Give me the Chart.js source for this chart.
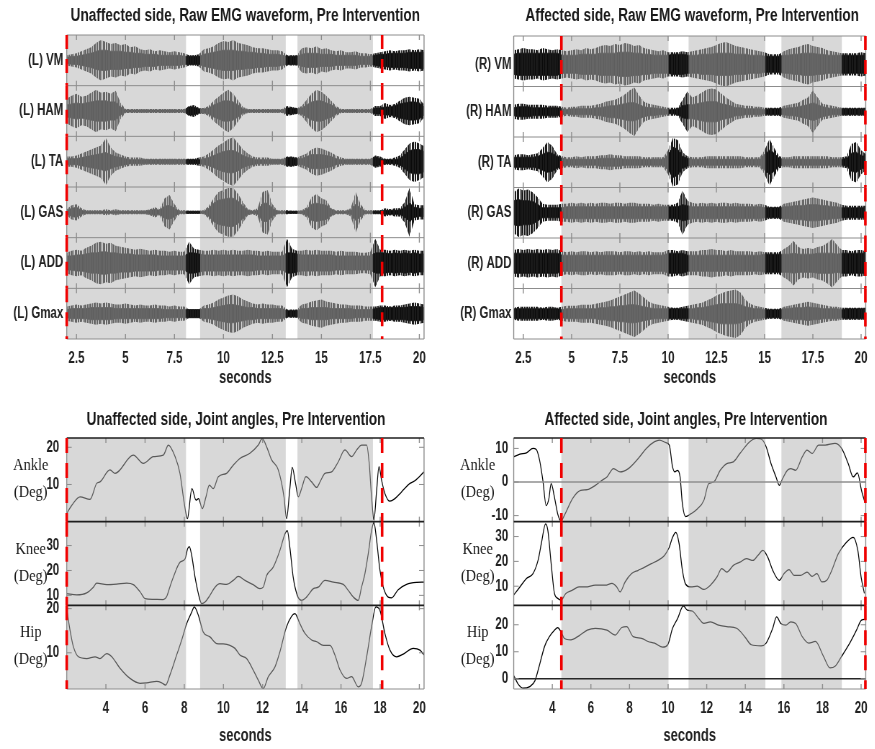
<!DOCTYPE html>
<html>
<head>
<meta charset="utf-8">
<script src="https://cdn.jsdelivr.net/npm/chart.js@4.4.1/dist/chart.umd.min.js"></script>
<style>
  html, body { margin: 0; padding: 0; background: #fff; }
  #fig { position: relative; width: 875px; height: 749px; overflow: hidden; background: #fff; }
  .panel { position: absolute; transform-origin: 0 0; }
</style>
</head>
<body>
<div id="fig"></div>
<script>
// Horizontal condensing applied to every panel (narrow figure lettering).
const K = 0.72;
const SANS = "'Liberation Sans', Arial, Helvetica, sans-serif";
const SERIF = "'Liberation Serif', 'Times New Roman', serif";

// ---------------- shared axis data ----------------
const xMin = 2.0, xMax = 20.24;
const emgTicks = [2.5, 5, 7.5, 10, 12.5, 15, 17.5, 20];
const angleTicks = [4, 6, 8, 10, 12, 14, 16, 18, 20];

// stance / swing windows (s) and event markers (s)
const shadeUnaffected = [[2.0, 8.09], [8.81, 13.18], [13.78, 17.63]];
const marksUnaffected = [2.0, 18.1];
const shadeAffected = [[4.47, 10.02], [11.06, 15.04], [15.87, 19.0]];
const marksAffected = [4.47, 20.22];

// ---------------- EMG amplitude envelopes ----------------
// sample times (s)
const emgTime = [2,2.25,2.5,2.75,3,3.25,3.5,3.75,4,4.25,4.5,4.75,5,5.25,5.5,5.75,6,6.25,6.5,6.75,
  7,7.25,7.5,7.75,8,8.25,8.5,8.75,9,9.25,9.5,9.75,10,10.25,10.5,10.75,11,11.25,11.5,11.75,
  12,12.25,12.5,12.75,13,13.25,13.5,13.75,14,14.25,14.5,14.75,15,15.25,15.5,15.75,16,16.25,16.5,16.75,
  17,17.25,17.5,17.75,18,18.25,18.5,18.75,19,19.25,19.5,19.75,20,20.25];

// Unaffected (left) side: spike and dense-core half amplitudes
const lVMPeak = [5,6,7,9,11,13,17,20,18,16,17,15,16,13,14,11,10,11,9,10,9,8,9,8,7, 5,5,6, 11,12,14,17,19,18,20,17,16,15,13,12,12,11,10,10,9, 5,5,5, 12,13,12,14,11,12,10,9,10,8,8,9,7,7,6, 7,8,9,10,9,10,10,11,10,11,10];
const lVMCore = [3,4,4,5,6,7,9,10,10,9,9,9,8,8,7,7,6,6,6,5,5,5,5,5,4, 4,4,4, 6,7,8,9,10,10,10,9,9,8,8,7,7,6,6,6,5, 4,4,4, 6,7,7,7,6,6,6,5,5,5,5,5,4,4,4, 5,6,6,7,7,7,7,8,8,8,8];
const lHAMPeak = [12,15,17,14,15,18,21,18,19,17,20,8,2,2,2,2,2,2,2,2,2,2,2,2,2, 5,6,3, 3,5,10,14,18,21,17,10,4,2,2,2,2,2,2,2,2, 5,4,3, 5,11,17,21,19,15,10,5,2,2,2,2,2,2,2, 5,5,8,6,7,10,13,14,13,12,6];
const lHAMCore = [6,7,8,7,8,9,10,10,10,9,9,4,1,1,1,1,1,1,1,1,1,1,1,1,1, 4,4,2, 2,3,6,8,10,10,9,6,2,1,1,1,1,1,1,1,1, 3,3,2, 3,6,9,10,10,8,6,3,1,1,1,1,1,1,1, 3,3,4,4,5,7,8,9,9,8,4];
const lTAPeak = [5,5,6,8,10,12,14,16,23,14,9,7,5,4,4,4,3,3,3,3,3,3,3,3,3, 3,3,4, 5,8,12,16,19,22,24,18,12,8,5,4,4,4,3,3,3, 5,5,4, 6,8,12,14,13,11,9,6,4,3,3,3,3,3,3, 6,5,3,3,4,6,12,18,20,18,15];
const lTACore = [3,3,3,4,5,6,7,8,9,7,5,4,3,2,2,2,2,2,2,2,2,2,2,2,2, 2,2,2, 3,4,6,8,10,11,11,9,6,4,3,2,2,2,2,2,2, 4,4,3, 3,5,7,7,7,6,5,3,2,2,2,2,2,2,2, 5,3,2,2,2,3,7,11,12,12,10];
const lGASPeak = [3,7,8,4,2,2,2,2,3,2,3,2,2,2,2,2,2,3,5,3,14,17,8,2,2, 1.5,1.5,1.5, 2,6,14,20,22,24,24,18,10,3,2,4,20,22,8,2,2, 2,1.5,1.5, 2,5,15,18,14,12,4,2,2,2,4,20,8,2,2, 2,2,4,3,4,4,10,24,8,7,7];
const lGASCore = [2,4,5,2,1,1,1,1,1,1,1,1,1,1,1,1,1,2,3,2,6,7,4,1,1, 1,1,1, 1,4,9,12,13,14,14,11,6,2,1,2,9,9,4,1,1, 1,1,1, 1,3,8,9,8,7,3,1,1,1,2,8,4,1,1, 1,1,2,2,2,2,5,9,5,4,4];
const lADDPeak = [10,12,13,12,15,17,20,21,19,20,17,16,15,14,13,14,13,12,13,12,12,11,12,11,11, 21,14,13, 12,12,13,12,13,12,13,12,12,13,12,12,11,12,11,11,11, 24,14,12, 12,13,12,13,12,12,12,11,12,11,11,11,10,10,11, 24,13,13,12,13,12,13,12,13,12,12];
const lADDCore = [7,7,8,8,9,10,10,11,11,10,10,9,9,9,8,8,8,8,8,7,7,7,7,7,7, 10,10,9, 8,8,8,8,8,8,8,8,8,8,8,7,7,7,7,7,7, 10,10,9, 8,8,8,8,8,8,8,7,7,7,7,7,7,7,7, 10,10,10,9,10,9,10,9,10,9,9];
const lGmaxPeak = [7,8,9,8,9,10,11,10,11,10,9,9,10,9,8,9,8,8,9,8,8,7,8,7,7, 4,4,4, 8,9,11,14,16,18,19,17,14,12,10,9,10,9,9,8,8, 4,4,4, 9,10,12,13,14,12,11,10,9,9,8,8,8,7,7, 7,8,8,7,8,8,9,10,11,10,9];
const lGmaxCore = [4,5,5,5,5,6,6,6,6,6,5,5,5,5,5,5,5,5,5,5,4,4,4,4,4, 4,4,4, 5,5,6,7,8,9,9,8,7,6,6,5,5,5,5,5,5, 3,3,3, 5,5,6,6,6,6,5,5,5,5,5,4,4,4,4, 5,6,6,6,6,6,6,7,7,7,6];

// Affected (right) side
const rVMPeak = [14,15,16,15,15,14,16,15,14,15, 14,13,14,15,14,16,15,16,18,19, 18,20,19,21,20,18,19,16,15,14, 13,14,12,12,12,13,12,13,14,15, 16,17,19,21,22,20,18,17,16,15, 14,13,12,10,10,10,13,15,16,17, 19,20,18,17,16,14,13,12,11,11, 11,11,12,11];
const rVMCore = [10,11,11,11,11,11,11,11,11,11, 9,9,9,9,10,10,10,10,11,11, 11,11,12,12,12,11,11,10,10,9, 9,9,9,10,10,10,9,9,9,10, 10,10,11,11,11,11,10,10,10,9, 9,9,8,8,8,8,9,9,10,10, 11,11,11,10,10,9,9,9,9,9, 9,9,9,9];
const rHAMPeak = [7,8,8,7,7,7,7,6,6,6, 5,4,5,5,6,6,6,7,8,10, 11,12,14,17,21,24,16,10,8,7, 6,5,4,4,4,12,20,14,16,19, 22,23,22,18,14,11,8,7,6,6, 5,5,4,4,4,4,6,7,8,9, 12,14,21,14,8,7,6,5,4,4, 4,4,4,4];
const rHAMCore = [4,5,5,5,4,4,4,4,4,4, 3,2,3,3,3,3,3,4,4,5, 6,6,7,8,9,9,7,5,4,4, 3,3,2,2,3,6,7,7,8,9, 10,10,10,8,7,6,4,4,3,3, 3,3,2,3,3,3,3,4,4,5, 6,7,9,7,5,4,3,3,3,3, 3,3,3,3];
const rTAPeak = [7,8,8,7,8,9,14,20,16,8, 6,5,5,6,5,6,6,6,7,7, 8,7,7,6,6,6,6,5,5,5, 5,5,12,24,22,10,6,5,5,5, 6,6,6,6,6,6,6,6,5,5, 5,5,12,23,14,6,5,5,6,6, 6,6,6,6,6,6,5,5,5,6, 18,20,12,8];
const rTACore = [5,5,5,5,5,6,8,10,9,6, 4,3,3,3,3,3,3,3,4,4, 4,4,4,3,3,3,3,3,3,3, 3,3,8,15,13,6,4,3,3,3, 3,3,3,3,3,3,3,3,3,3, 3,3,8,12,9,4,3,3,3,3, 3,3,3,3,3,3,3,3,3,4, 9,10,7,5];
const rGASPeak = [20,24,22,23,20,15,9,8,8,8, 9,9,10,9,10,9,10,9,10,10, 9,10,10,9,10,10,9,9,9,8, 9,8,8,8,10,22,12,10,9,10, 9,10,9,10,10,9,10,9,9,9, 8,9,8,6,6,6,9,10,11,12, 13,14,15,14,13,12,11,10,8,7, 7,7,7,7];
const rGASCore = [12,13,12,12,11,8,5,5,5,5, 5,6,6,6,6,6,6,6,6,6, 6,6,6,6,6,6,6,6,6,6, 6,6,6,6,6,8,7,6,6,6, 6,6,6,6,6,6,6,6,6,6, 6,6,5,5,5,5,6,6,7,7, 7,8,8,8,7,7,6,6,5,5, 5,5,5,5];
const rADDPeak = [13,14,13,14,13,14,13,14,13,14, 12,11,12,11,12,12,11,12,11,12, 12,12,11,12,12,11,12,11,12,11, 11,11,13,13,12,13,12,12,12,13, 13,14,13,13,12,13,12,12,12,12, 11,12,11,11,11,11,14,17,22,16, 14,15,14,16,17,20,24,18,13,13, 12,13,13,12];
const rADDCore = [10,10,10,10,10,10,10,10,10,10, 8,8,8,8,8,8,8,8,8,8, 8,8,8,8,8,8,8,8,8,8, 8,8,10,10,10,10,8,8,8,8, 8,8,8,8,8,8,8,8,8,8, 8,8,9,9,9,9,9,9,10,9, 9,9,9,10,10,10,10,9,10,10, 10,10,10,10];
const rGmaxPeak = [6,7,7,7,7,7,6,7,7,6, 7,8,8,8,9,9,9,10,11,12, 13,15,17,19,21,23,20,16,12,10, 9,8,7,6,6,7,8,9,10,11, 13,15,18,20,22,23,24,21,14,10, 8,7,6,5,5,5,7,8,9,10, 11,12,11,10,9,8,7,7,6,6, 6,6,6,6];
const rGmaxCore = [5,5,5,5,5,5,5,5,5,5, 4,5,5,5,5,5,5,5,6,6, 7,7,8,8,9,9,8,7,6,5, 5,5,5,5,5,5,5,5,6,6, 7,8,9,10,10,10,10,9,7,6, 5,5,4,4,4,4,5,5,6,6, 6,7,6,6,5,5,5,5,4,5, 5,5,5,5];

// ---------------- joint angles (deg) ----------------
const ankleLTime = [2.00,2.26,2.68,3.19,3.53,3.70,4.21,4.47,5.40,5.91,6.42,6.93,7.19,7.53,7.78,8.00,8.16,8.39,8.60,8.73,8.92,9.11,9.28,9.48,9.74,10.16,10.50,10.84,11.35,11.78,11.98,12.20,12.46,12.80,13.09,13.22,13.39,13.51,13.68,13.82,13.99,14.21,14.50,14.76,14.93,15.18,15.52,15.86,16.20,16.54,16.80,17.05,17.31,17.44,17.56,17.68,17.82,17.94,18.07,18.24,18.50,18.75,19.09,19.52,19.77,20.24];
const ankleLDeg = [2.2,4.4,6.7,6.0,10.3,10.7,13.9,13.0,17.9,15.7,17.5,17.9,20.6,17.5,13.0,4.9,0.8,8.9,5.8,6.2,3.5,6.7,9.8,8.9,12.1,13.0,15.2,17.0,18.4,20.6,22.3,20.2,16.6,13.9,6.7,0.8,8.9,14.6,10.3,6.7,8.9,12.1,10.7,9.2,10.7,13.0,13.4,16.1,19.3,17.5,19.3,20.6,20.6,15.7,6.7,0.4,8.5,14.8,11.2,7.6,5.5,6.2,8.0,10.3,11.0,13.4];
const kneeLTime = [2.00,2.51,3.02,3.36,3.53,4.04,4.55,5.06,5.40,5.74,6.00,6.42,6.93,7.10,7.27,7.44,7.78,8.04,8.17,8.26,8.38,8.55,8.72,8.89,9.06,9.31,9.57,9.82,10.16,10.50,10.76,11.10,11.52,11.86,12.03,12.20,12.54,12.88,13.14,13.26,13.39,13.56,13.77,13.99,14.24,14.59,14.84,15.18,15.61,16.12,16.37,16.63,16.88,17.05,17.22,17.39,17.56,17.68,17.82,17.99,18.16,18.41,18.58,18.92,19.35,19.86,20.24];
const kneeLDeg = [10.7,10.2,11.0,13.3,14.9,14.3,14.5,14.9,14.3,11.5,8.7,8.4,8.3,9.5,13.5,17.3,23.3,24.7,28.7,29.6,26.0,17.3,10.7,6.7,7.3,10.0,13.3,14.7,14.4,16.0,17.6,16.0,14.3,12.7,13.3,17.9,21.3,28.0,34.7,36.0,29.3,17.3,10.0,8.0,9.3,12.7,13.3,16.0,15.3,14.4,12.0,9.3,8.0,13.3,18.7,26.7,36.0,39.3,32.0,20.0,13.3,9.3,9.0,12.3,14.4,15.2,15.3];
const hipLTime = [2.00,2.17,2.34,2.60,3.02,3.45,3.70,4.04,4.30,4.72,5.23,5.74,6.08,6.59,6.85,7.05,7.27,7.61,7.87,8.12,8.38,8.51,8.72,8.97,9.31,9.65,9.99,10.33,10.59,10.84,11.18,11.52,11.78,12.03,12.29,12.63,12.88,13.22,13.65,13.90,14.16,14.50,14.76,15.10,15.44,15.69,15.95,16.29,16.54,16.88,17.05,17.31,17.56,17.78,17.99,18.24,18.50,18.84,19.18,19.69,20.03,20.24];
const hipLDeg = [20.0,15.1,11.4,9.1,8.7,9.1,8.7,9.8,9.1,6.5,4.2,3.1,3.2,3.5,3.2,2.7,5.0,9.5,12.9,16.6,19.2,20.4,18.5,14.7,13.6,12.1,12.0,11.7,11.0,9.5,8.7,6.1,3.8,1.9,4.6,6.8,10.2,15.9,18.9,16.6,14.4,12.9,12.5,11.7,11.7,9.5,6.1,4.2,4.6,2.3,3.1,9.1,15.9,20.4,19.6,14.4,10.6,9.1,9.7,11.0,10.6,9.5];

const ankleRTime = [2.00,2.32,2.66,3.00,3.17,3.34,3.51,3.68,3.82,3.94,4.11,4.28,4.45,4.70,5.04,5.47,5.81,6.23,6.57,6.83,7.17,7.51,7.94,8.45,8.87,9.30,9.55,9.89,10.06,10.23,10.35,10.49,10.62,10.74,10.91,11.17,11.51,11.85,12.10,12.36,12.70,13.04,13.38,13.72,14.23,14.57,14.82,15.08,15.33,15.59,15.76,15.93,16.18,16.35,16.61,16.95,17.20,17.46,17.80,18.14,18.65,18.99,19.33,19.59,19.81,20.02,20.19];
const ankleRDeg = [7.5,8.3,8.7,10.0,9.7,6.5,0.5,-7.0,-5.0,-0.5,-4.5,-9.5,-11.5,-9.0,-5.0,-2.5,-2.3,-1.0,0.5,1.5,4.0,3.0,4.0,7.0,10.0,12.0,12.5,11.7,11.0,4.5,3.0,3.5,1.5,-6.5,-10.3,-9.5,-8.0,-5.5,-0.5,0.0,3.5,5.5,6.0,8.5,12.0,13.0,12.8,10.5,5.5,1.5,-1.0,1.0,3.5,4.0,3.5,7.5,9.5,8.5,11.0,11.0,11.5,10.0,5.5,1.5,2.7,-2.5,-6.0];
const kneeRTime = [2.00,2.32,2.66,3.00,3.26,3.43,3.65,3.77,3.94,4.11,4.28,4.45,4.70,5.04,5.38,5.72,6.23,6.74,7.09,7.34,7.51,7.77,8.11,8.45,8.79,9.13,9.47,9.81,10.06,10.23,10.40,10.57,10.74,10.91,11.17,11.51,11.85,12.19,12.53,12.78,13.04,13.38,13.72,14.06,14.40,14.65,14.91,15.16,15.42,15.76,16.01,16.27,16.52,16.86,17.20,17.46,17.71,17.97,18.22,18.48,18.82,19.24,19.59,19.83,20.00,20.17];
const kneeRDeg = [6.4,9.7,13.1,15.1,20.4,27.1,35.1,32.4,19.1,7.1,5.1,4.4,7.1,8.4,9.7,9.7,10.4,10.4,11.1,9.7,7.7,11.7,15.1,16.4,17.7,19.1,20.4,22.4,25.7,29.7,31.7,27.1,16.4,10.8,9.7,10.0,8.7,10.4,13.7,17.1,15.7,18.4,19.7,21.1,20.4,22.4,24.4,21.7,16.4,12.4,15.1,16.7,14.4,14.4,15.7,14.0,15.1,11.7,12.4,16.4,23.1,27.7,29.7,24.4,13.7,7.1];
const hipRTime = [2.00,2.24,2.49,2.83,3.09,3.34,3.60,3.85,4.11,4.28,4.45,4.62,4.96,5.38,5.81,6.23,6.83,7.26,7.60,7.85,8.19,8.62,8.96,9.30,9.72,9.98,10.23,10.49,10.79,11.00,11.25,11.59,11.85,12.19,12.61,13.04,13.55,13.97,14.31,14.82,15.08,15.42,15.62,15.84,16.10,16.35,16.61,16.95,17.29,17.63,18.05,18.39,18.65,18.99,19.41,19.76,20.02,20.22];
const hipRDeg = [1.2,-2.1,-3.5,-2.9,-0.9,5.2,12.0,15.6,18.0,18.9,17.4,15.0,14.4,15.9,18.0,18.7,18.0,16.2,19.0,19.3,15.6,15.0,13.8,13.2,11.7,12.6,18.7,22.3,27.0,25.4,25.1,22.3,20.5,21.1,19.9,19.3,18.7,15.6,12.6,12.2,13.2,18.7,22.9,20.5,19.9,21.1,20.5,15.6,13.2,13.8,8.3,4.0,4.6,8.3,13.2,18.0,21.7,22.0];

// row ranges and their tick labels
const emgRange = [-25, 25], rVMRange = [-22, 28], emgZeroTick = [0];
const ankleLRange = [0, 22.5],   ankleLTicks = [10, 20];
const kneeLRange  = [6, 39.6],   kneeLTicks  = [10, 20, 30];
const hipLRange   = [1.8, 20.75], hipLTicks  = [10, 20];
const ankleRRange = [-11.8, 13.1], ankleRTicks = [-10, 0, 10];
const kneeRRange  = [2.3, 36],   kneeRTicks  = [10, 20, 30];
const hipRRange   = [-3.8, 27.2], hipRTicks  = [0, 10, 20];

// ---------------- drawing ----------------
const CORE = '#0a0a0a';
const TEXT = '#222222';

// irregular vertical hairline texture for the spike zone of each EMG trace
function hairPattern() {
  const c = document.createElement('canvas');
  c.width = 13; c.height = 4;
  const g = c.getContext('2d');
  g.fillStyle = '#1a1a1a';
  [0, 1, 2, 4, 5, 7, 8, 9, 11].forEach(x => g.fillRect(x, 0, 1, 4));
  return g.createPattern(c, 'repeat');
}
const HAIR = hairPattern();

function pts(times, vals, sign) {
  return times.map((t, i) => ({ x: t, y: sign * vals[i] }));
}

function envelopeSets(axisId, peak, core) {
  const base = { yAxisID: axisId, xAxisID: 'x', pointRadius: 0, tension: 0 };
  return [
    Object.assign({}, base, { data: pts(emgTime, peak, 1), borderWidth: 0, borderColor: 'rgba(0,0,0,0)', fill: false }),
    Object.assign({}, base, { data: pts(emgTime, peak, -1), borderWidth: 0, borderColor: 'rgba(0,0,0,0)', backgroundColor: HAIR, fill: '-1' }),
    Object.assign({}, base, { data: pts(emgTime, core, 1), borderWidth: 0.8, borderColor: CORE, fill: false }),
    Object.assign({}, base, { data: pts(emgTime, core, -1), borderWidth: 0.8, borderColor: CORE, backgroundColor: CORE, fill: '-1' })
  ];
}

function angleSet(axisId, times, vals) {
  return {
    yAxisID: axisId, xAxisID: 'x', data: pts(times, vals, 1), borderColor: '#000',
    borderWidth: 1.25, pointRadius: 0, fill: false, cubicInterpolationMode: 'monotone'
  };
}

function strokeLine(ctx, x1, y1, x2, y2) {
  ctx.beginPath(); ctx.moveTo(x1, y1); ctx.lineTo(x2, y2); ctx.stroke();
}

const decor = {
  id: 'decor',
  afterDatasetsDraw(chart, args, o) {
    const ctx = chart.ctx, a = chart.chartArea, xs = chart.scales.x;
    const px = v => xs.getPixelForValue(v);
    const rows = o.rowIds.map(id => chart.scales[id]);
    ctx.save();
    // gait-phase windows laid over the traces
    ctx.fillStyle = 'rgba(178,178,178,0.5)';
    o.shade.forEach(([s, e]) => {
      const x1 = Math.max(px(s), a.left), x2 = Math.min(px(e), a.right);
      ctx.fillRect(x1, a.top, x2 - x1, a.bottom - a.top);
    });
    // zero reference lines
    (o.zeroLines || []).forEach(z => {
      const sc = chart.scales[z.id];
      const y = sc.getPixelForValue(0);
      ctx.strokeStyle = z.color; ctx.lineWidth = z.width;
      strokeLine(ctx, a.left, y, a.right, y);
    });
    // inward tick marks
    ctx.strokeStyle = '#8c8c8c';
    ctx.lineWidth = 1 / K;
    rows.forEach(sc => {
      xs.ticks.forEach(t => {
        const x = px(t.value);
        strokeLine(ctx, x, sc.top, x, sc.top + 5);
        strokeLine(ctx, x, sc.bottom, x, sc.bottom - 5);
      });
    });
    if (o.yTickMarks) {
      ctx.lineWidth = 1;
      rows.forEach(sc => sc.ticks.forEach(t => {
        const y = sc.getPixelForValue(t.value);
        strokeLine(ctx, a.left, y, a.left + 5 / K, y);
        strokeLine(ctx, a.right, y, a.right - 5 / K, y);
      }));
    }
    // frames
    ctx.strokeStyle = '#8c8c8c'; ctx.lineWidth = 1;
    strokeLine(ctx, a.left, a.bottom, a.right, a.bottom);
    ctx.lineWidth = 1 / K;
    strokeLine(ctx, a.left, a.top, a.left, a.bottom);
    strokeLine(ctx, a.right, a.top, a.right, a.bottom);
    ctx.strokeStyle = o.sepColor; ctx.lineWidth = o.sepWidth;
    rows.forEach(sc => strokeLine(ctx, a.left, sc.top, a.right, sc.top));
    // event markers
    ctx.strokeStyle = '#f00000';
    ctx.lineWidth = 2.6 / K;
    ctx.setLineDash(o.dash);
    o.marks.forEach(m => {
      const x = px(m);
      rows.forEach(sc => strokeLine(ctx, x, sc.top, x, sc.bottom));
    });
    ctx.restore();
  },
  afterDraw(chart, args, o) {
    const ctx = chart.ctx;
    ctx.save();
    ctx.fillStyle = '#1a1a1a';
    ctx.textAlign = 'center';
    ctx.textBaseline = 'middle';
    // panel heading
    ctx.save();
    ctx.font = 'bold 17.5px ' + SANS;
    ctx.translate(o.title.x, o.title.y);
    ctx.scale(0.776 / K, 1);
    ctx.fillText(o.title.text, 0, 0);
    ctx.restore();
    // two-line serif row captions
    (o.captions || []).forEach(c => {
      const sc = chart.scales[c.id];
      const yc = (sc.top + sc.bottom) / 2;
      ctx.save();
      ctx.font = '16px ' + SERIF;
      ctx.translate(o.captionX, yc);
      ctx.scale(0.9 / K, 1);
      ctx.fillText(c.lines[0], 0, -14);
      ctx.fillText(c.lines[1], 0, 13);
      ctx.restore();
    });
    ctx.restore();
  }
};

function buildPanel(spec) {
  const wrap = document.createElement('div');
  wrap.className = 'panel';
  wrap.style.left = spec.box.x + 'px';
  wrap.style.top = spec.box.y + 'px';
  wrap.style.transform = 'scaleX(' + K + ')';
  const cv = document.createElement('canvas');
  const cw = Math.round(spec.box.w / K);
  cv.width = cw; cv.height = spec.box.h;
  cv.style.width = cw + 'px'; cv.style.height = spec.box.h + 'px';
  wrap.appendChild(cv);
  document.getElementById('fig').appendChild(wrap);

  const toCx = px => (px - spec.box.x) / K;
  const tickFont = { family: SANS, size: 16, weight: 'bold' };

  const scales = {
    x: {
      type: 'linear', position: 'bottom', min: xMin, max: xMax,
      afterBuildTicks: s => { s.ticks = spec.xTicks.map(v => ({ value: v })); },
      afterFit: s => { s.height = spec.box.y + spec.box.h - spec.plot.b; },
      grid: { display: false, drawTicks: false }, border: { display: false },
      ticks: { autoSkip: false, maxRotation: 0, padding: 10, color: TEXT, font: tickFont, callback: v => String(v) },
      title: { display: true, text: 'seconds', color: TEXT, font: { family: SANS, size: 18, weight: 'bold' }, padding: { top: 0, bottom: spec.xTitlePad } }
    }
  };
  // stacked row axes: the last one registered is placed on top
  const rowIds = spec.rows.map((r, i) => 'r' + i);
  for (let i = spec.rows.length - 1; i >= 0; i--) {
    const r = spec.rows[i];
    scales[rowIds[i]] = {
      type: 'linear', position: 'left', stack: 'rows', stackWeight: 1, offset: false,
      min: r.range[0], max: r.range[1],
      afterBuildTicks: s => { s.ticks = r.ticks.map(v => ({ value: v })); },
      afterFit: s => { s.width = toCx(spec.plot.l); },
      grid: { display: false, drawTicks: false }, border: { display: false },
      ticks: { autoSkip: false, padding: spec.yPad / K, color: TEXT, font: tickFont, callback: r.label }
    };
  }

  let datasets = [];
  spec.rows.forEach((r, i) => {
    if (spec.kind === 'emg') datasets = datasets.concat(envelopeSets(rowIds[i], r.peak, r.core));
    else datasets.push(angleSet(rowIds[i], r.time, r.deg));
  });

  new Chart(cv, {
    type: 'line',
    data: { datasets },
    options: {
      responsive: false, animation: false, devicePixelRatio: 1, events: [],
      layout: { autoPadding: false, padding: { left: 0, top: spec.plot.t - spec.box.y, right: (spec.box.x + spec.box.w - spec.plot.r) / K, bottom: 0 } },
      scales,
      plugins: {
        legend: { display: false }, tooltip: { enabled: false }, title: { display: false },
        decor: {
          rowIds, shade: spec.shade, marks: spec.marks, dash: spec.dash,
          sepColor: spec.sepColor, sepWidth: spec.sepWidth, yTickMarks: spec.kind !== 'emg',
          zeroLines: (spec.zeroRows || []).map(z => ({ id: rowIds[z.row], color: z.color, width: z.width })),
          title: { text: spec.title, x: toCx(spec.titleX), y: spec.titleY - spec.box.y },
          captions: spec.kind === 'emg' ? [] : spec.rows.map((r, i) => ({ id: rowIds[i], lines: [r.name, '(Deg)'] })),
          captionX: toCx(spec.plot.l - 36)
        }
      }
    },
    plugins: [decor]
  });
}

const emgRow = (name, peak, core, range) => ({ name, peak, core, range: range || emgRange, ticks: emgZeroTick, label: () => name });
const angRow = (name, time, deg, range, ticks) => ({ name, time, deg, range, ticks, label: v => String(v) });

buildPanel({
  kind: 'emg', box: { x: 0, y: 0, w: 437, h: 400 }, plot: { l: 66.7, r: 424, t: 35, b: 339 },
  title: 'Unaffected side, Raw EMG waveform, Pre Intervention', titleX: 245.3, titleY: 16.5,
  xTicks: emgTicks, xTitlePad: 11, yPad: 3.4, shade: shadeUnaffected, marks: marksUnaffected,
  dash: [14, 10], sepColor: '#8c8c8c', sepWidth: 1,
  rows: [
    emgRow('(L) VM', lVMPeak, lVMCore), emgRow('(L) HAM', lHAMPeak, lHAMCore),
    emgRow('(L) TA', lTAPeak, lTACore), emgRow('(L) GAS', lGASPeak, lGASCore),
    emgRow('(L) ADD', lADDPeak, lADDCore), emgRow('(L) Gmax', lGmaxPeak, lGmaxCore)
  ]
});

buildPanel({
  kind: 'emg', box: { x: 437, y: 0, w: 438, h: 400 }, plot: { l: 513.7, r: 870.7, t: 36, b: 339 },
  title: 'Affected side, Raw EMG waveform, Pre Intervention', titleX: 692.2, titleY: 16.5,
  xTicks: emgTicks, xTitlePad: 11, yPad: 2.2, shade: shadeAffected, marks: marksAffected,
  dash: [14, 10], sepColor: '#8c8c8c', sepWidth: 1,
  rows: [
    emgRow('(R) VM', rVMPeak, rVMCore, rVMRange), emgRow('(R) HAM', rHAMPeak, rHAMCore),
    emgRow('(R) TA', rTAPeak, rTACore), emgRow('(R) GAS', rGASPeak, rGASCore),
    emgRow('(R) ADD', rADDPeak, rADDCore), emgRow('(R) Gmax', rGmaxPeak, rGmaxCore)
  ]
});

buildPanel({
  kind: 'angle', box: { x: 0, y: 400, w: 437, h: 349 }, plot: { l: 66.7, r: 424, t: 438, b: 689 },
  title: 'Unaffected side, Joint angles, Pre Intervention', titleX: 236, titleY: 420.5,
  xTicks: angleTicks, xTitlePad: 2, yPad: 7.5, shade: shadeUnaffected, marks: marksUnaffected,
  dash: [15, 10], sepColor: '#1e1e1e', sepWidth: 1.6,
  rows: [
    angRow('Ankle', ankleLTime, ankleLDeg, ankleLRange, ankleLTicks),
    angRow('Knee', kneeLTime, kneeLDeg, kneeLRange, kneeLTicks),
    angRow('Hip', hipLTime, hipLDeg, hipLRange, hipLTicks)
  ]
});

buildPanel({
  kind: 'angle', box: { x: 437, y: 400, w: 438, h: 349 }, plot: { l: 513.7, r: 871, t: 438, b: 689 },
  title: 'Affected side, Joint angles, Pre Intervention', titleX: 686, titleY: 420.5,
  xTicks: angleTicks, xTitlePad: 2, yPad: 5.5, shade: shadeAffected, marks: marksAffected,
  dash: [15, 10], sepColor: '#1e1e1e', sepWidth: 1.6,
  zeroRows: [{ row: 0, color: '#8f8f8f', width: 1.4 }, { row: 2, color: '#262626', width: 1.3 }],
  rows: [
    angRow('Ankle', ankleRTime, ankleRDeg, ankleRRange, ankleRTicks),
    angRow('Knee', kneeRTime, kneeRDeg, kneeRRange, kneeRTicks),
    angRow('Hip', hipRTime, hipRDeg, hipRRange, hipRTicks)
  ]
});
</script>
</body>
</html>
